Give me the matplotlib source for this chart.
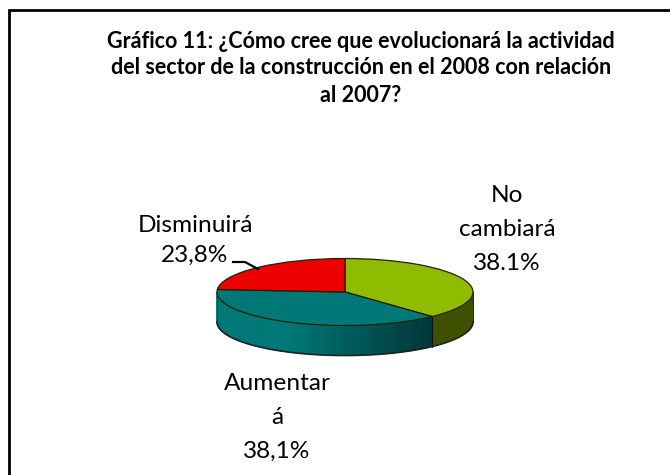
import numpy as np
import matplotlib
matplotlib.use("Agg")
import matplotlib.pyplot as plt
from matplotlib.colors import to_rgb

plt.rcParams['font.family'] = ['Lato', 'DejaVu Sans']

title_lines = ["Gráfico 11: ¿Cómo cree que evolucionará la actividad",
               "del sector de la construcción en el 2008 con relación",
               "al 2007?"]
values = [38.1, 38.1, 23.8]
value_labels = ["38.1%", "38,1%", "23,8%"]
colors = ["#8fbc00", "#007878", "#ee0000"]

W, H = 670, 475
fig = plt.figure(figsize=(W/100, H/100), dpi=100, facecolor="white")
# frame: top and left only, running off the picture
fig.add_artist(plt.Line2D([8.5/W, 8.5/W, 1], [0, 1-10/H, 1-10/H], color="black", lw=2,
                          transform=fig.transFigure, solid_joinstyle="miter"))

cx, cy, a, b, depth = 345, 292, 128, 33.5, 30
ax = fig.add_axes([(cx-a)/W, 1-(cy+b+depth)/H, 2*a/W, (2*b+depth)/H])
d = depth/b
ax.pie(values, colors=colors, startangle=90, counterclock=False, radius=1,
       wedgeprops=dict(edgecolor="#202000", linewidth=0.9, zorder=3))
ax.set_aspect("auto")
ax.set_xlim(-1, 1)
ax.set_ylim(-1-d, 1)
ax.set_axis_off()
for c in ax.patches:
    c.set_clip_on(False)

# side wall
total = sum(values)
bounds = 90 - np.cumsum([0]+values)/total*360
ths = np.radians(np.linspace(bounds[1], 0, 30))
xs = np.cos(ths); ys = np.sin(ths)
ax.fill(np.r_[xs, xs[::-1]], np.r_[ys, ys[::-1]-d], color="#3f5000", lw=0, zorder=2, clip_on=False)
# teal side with horizontal gradient
angs = np.linspace(bounds[1], -180, 90)
c_dark, c_mid = np.array(to_rgb("#003538")), np.array(to_rgb("#007878"))
xb = np.cos(np.radians(bounds[1])); yb = np.sin(np.radians(bounds[1]))
for i in range(len(angs)-1):
    th = np.radians(np.linspace(angs[i], angs[i+1], 4))
    x = np.cos(th); y = np.sin(th)
    f = np.clip((xb-x.mean())/(xb+1)*1.45, 0, 1)
    col = c_dark*(1-f) + c_mid*f
    ax.fill(np.r_[x, x[::-1]], np.r_[y, y[::-1]-d], facecolor=col, edgecolor=col, lw=0.6, zorder=2, clip_on=False)
th = np.radians(np.linspace(-180, 0, 120))
ax.plot(np.cos(th), np.sin(th)-d, color="#202020", lw=1.2, zorder=2.5, clip_on=False)
ax.plot([-1, -1], [0, -d], color="#204040", lw=0.7, zorder=2.5, clip_on=False)
ax.plot([1, 1], [0, -d], color="#202000", lw=0.7, zorder=2.5, clip_on=False)
ax.plot([xb, xb], [yb, yb-d], color="#101010", lw=0.7, zorder=2.5, clip_on=False)

def T(x, y, s, **kw):
    fig.text(x/W, 1-y/H, s, ha="center", va="center", color="black", **kw)

for y, line in zip([41, 68, 95], title_lines):
    T(361, y, line, fontsize=15.5, fontweight="bold")

fs = 17.6
T(195, 226, "Disminuirá", fontsize=fs)
T(195, 255, value_labels[2], fontsize=fs)
T(507, 196, "No", fontsize=fs)
T(507, 229, "cambiará", fontsize=fs)
T(507, 263, value_labels[0], fontsize=fs)
T(277, 384, "Aumentar", fontsize=fs)
T(277, 417, "á", fontsize=fs)
T(277, 451, value_labels[1], fontsize=fs)

fig.add_artist(plt.Line2D([233/W, 245/W, 258/W], [1-262/H, 1-262/H, 1-269/H],
                          color="black", lw=1.6, transform=fig.transFigure))

fig.savefig("out.png", dpi=100, facecolor="white")
